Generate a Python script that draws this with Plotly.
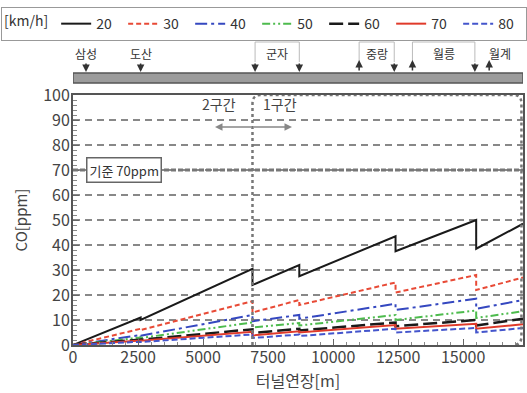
import plotly.graph_objects as go

# ---- data ----
DIST = [0, 2600, 2600, 6900, 6900, 8700, 8700, 12400, 12400, 15500, 15500, 17300]
SPEEDS = ["20", "30", "40", "50", "60", "70", "80"]
CO_20 = [0, 11.0, 10.0, 30.5, 24.0, 32.0, 27.5, 43.5, 37.5, 50.0, 38.5, 48.5]
CO_30 = [0, 6.5, 6.0, 17.5, 13.0, 18.0, 16.0, 25.0, 21.0, 28.0, 22.0, 27.0]
CO_40 = [0, 4.0, 3.7, 12.0, 9.5, 12.0, 10.5, 16.5, 14.0, 18.5, 14.5, 18.0]
CO_50 = [0, 3.0, 2.8, 9.0, 7.0, 8.8, 7.8, 12.0, 10.0, 13.8, 10.8, 13.5]
CO_60 = [0, 2.2, 2.1, 6.3, 4.8, 6.5, 5.8, 9.0, 7.5, 10.0, 7.8, 10.5]
CO_70 = [0, 1.8, 1.7, 5.3, 3.8, 5.5, 5.0, 8.0, 6.5, 8.5, 6.5, 8.3]
CO_80 = [0, 1.3, 1.2, 4.2, 2.8, 4.2, 3.6, 6.5, 5.0, 6.8, 5.0, 6.8]
SERIES = [CO_20, CO_30, CO_40, CO_50, CO_60, CO_70, CO_80]

X_TICKS = [0, 2500, 5000, 7500, 10000, 12500, 15000]
Y_TICKS = [0, 10, 20, 30, 40, 50, 60, 70, 80, 90, 100]
X_MAX = 17300
LIMIT = 70
SECTION_BOUND = 6900

STATIONS = ["삼성", "도산", "군자", "중랑", "월릉", "월계"]
STATION_X = [500, 2600, 7850, 11700, 14250, 16400]
DOWN_ARROWS = [500, 2600, 7000, 8700, 12350, 15450]
UP_ARROWS = [11000, 13050, 16000]
BOXES = [(7000, 8700), (11000, 12350), (13050, 15450)]

# ---- styles ----
COLORS = ["#1a1a1a", "#e84a36", "#3548c0", "#4dbb4d", "#1a1a1a", "#e03a2a", "#4455cc"]
DASHES = ["solid", "5px,3px", "12px,4px,3px,4px", "8px,3px,2px,3px,2px,3px",
          "14px,5px", "solid", "6px,3px"]
WIDTHS = [2, 2, 2, 2, 2.5, 2, 2]

FONT = "Noto Sans CJK KR, Noto Sans, sans-serif"

fig = go.Figure()
for name, ys, c, d, w in zip(SPEEDS, SERIES, COLORS, DASHES, WIDTHS):
    fig.add_trace(go.Scatter(x=DIST, y=ys, mode="lines", name=name,
                             line=dict(color=c, dash=d, width=w)))
# invisible trace to create the station strip subplot
fig.add_trace(go.Scatter(x=[0], y=[0], yaxis="y2", mode="markers", showlegend=False,
                         marker=dict(opacity=0), hoverinfo="skip"))

shapes = []
# limit line at 70 ppm
shapes.append(dict(type="line", xref="x", yref="y", x0=0, x1=X_MAX, y0=LIMIT, y1=LIMIT,
                   line=dict(color="#777", width=3, dash="5px,2px"), layer="above"))
# dotted rounded section box
rx, ry = 300, 3.5
xr = X_MAX - 60
path = (f"M {SECTION_BOUND},0 L {SECTION_BOUND},{100-ry} Q {SECTION_BOUND},100 {SECTION_BOUND+rx},100 "
        f"L {xr-rx},100 Q {xr},100 {xr},{100-ry} L {xr},{ry} Q {xr},0 {xr-rx},0")
shapes.append(dict(type="path", xref="x", yref="y", path=path,
                   line=dict(color="#777", width=2.5, dash="dot"), layer="above"))
# station bar (strip axis y2: value v = 85 - pixel)
shapes.append(dict(type="rect", xref="x", yref="y2", x0=0, x1=X_MAX, y0=2, y1=12,
                   fillcolor="#9c9c9c", line=dict(color="#555", width=1.5)))
# station boxes (brackets)
for a, b in BOXES:
    shapes.append(dict(type="path", xref="x", yref="y2",
                       path=f"M {a},23 L {a},43 L {b},43 L {b},23",
                       line=dict(color="#bbb", width=1)))

annotations = []
for name, sx in zip(STATIONS, STATION_X):
    annotations.append(dict(x=sx, y=32, xref="x", yref="y2", text=name, showarrow=False,
                            font=dict(family=FONT, size=12, color="#333")))
for ax_ in DOWN_ARROWS:
    annotations.append(dict(x=ax_, y=13, xref="x", yref="y2", ax=ax_, ay=23, axref="x", ayref="y2",
                            text="", showarrow=True, arrowhead=2, arrowsize=1, arrowwidth=1.5,
                            arrowcolor="#333"))
for ax_ in UP_ARROWS:
    annotations.append(dict(x=ax_, y=25, xref="x", yref="y2", ax=ax_, ay=13, axref="x", ayref="y2",
                            text="", showarrow=True, arrowhead=2, arrowsize=1, arrowwidth=1.5,
                            arrowcolor="#333"))
# section labels and arrows
annotations.append(dict(x=5620, y=96.4, xref="x", yref="y", text="2구간", showarrow=False,
                        font=dict(family=FONT, size=14, color="#444")))
annotations.append(dict(x=7950, y=96.4, xref="x", yref="y", text="1구간", showarrow=False,
                        font=dict(family=FONT, size=14, color="#444")))
for tip in (5460, 8420):
    annotations.append(dict(x=tip, y=87.2, xref="x", yref="y", ax=SECTION_BOUND, ay=87.2,
                            axref="x", ayref="y", text="", showarrow=True, arrowhead=2,
                            arrowsize=1, arrowwidth=1.5, arrowcolor="#888"))
# limit label
annotations.append(dict(x=1960, y=LIMIT, xref="x", yref="y", text="기준 70ppm", showarrow=False,
                        bgcolor="white", bordercolor="#666", borderwidth=1.5, borderpad=2,
                        font=dict(family=FONT, size=13, color="#333")))

fig.update_layout(
    width=527, height=393,
    margin=dict(l=73, r=4, t=40, b=48),
    paper_bgcolor="white", plot_bgcolor="white",
    font=dict(family=FONT, color="#333"),
    shapes=shapes, annotations=annotations,
    legend=dict(orientation="h", x=-0.14, y=1.108, xanchor="left", yanchor="top",
                bordercolor="#999", borderwidth=1, bgcolor="white",
                title=dict(text="[km/h]", side="left", font=dict(family=FONT, size=14, color="#333")),
                font=dict(family=FONT, size=14, color="#333"),
                entrywidth=22, entrywidthmode="pixels", tracegroupgap=0),
    xaxis=dict(range=[0, X_MAX], tickvals=X_TICKS, ticktext=[str(v) for v in X_TICKS],
               anchor="y", automargin=False,
               showgrid=False, zeroline=False, showline=True, linecolor="#555", linewidth=2,
               mirror=True, ticks="inside", ticklen=6, tickcolor="#666", ticklabelstandoff=-3,
               minor=dict(dtick=500, ticks="inside", ticklen=3, tickcolor="#888"),
               tickfont=dict(family=FONT, size=16, color="#444"),
               title=dict(text="터널연장[m]", font=dict(family=FONT, size=16, color="#444"), standoff=3)),
    yaxis=dict(domain=[0, 250 / 305], range=[0, 100], tickvals=Y_TICKS,
               ticktext=[str(v) for v in Y_TICKS], automargin=False,
               showgrid=True, gridcolor="#888", gridwidth=2, griddash="7px,5px",
               zeroline=False, showline=True, linecolor="#555", linewidth=2, mirror=True,
               ticks="inside", ticklen=6, tickcolor="#666", ticklabelstandoff=-2,
               minor=dict(dtick=2, ticks="inside", ticklen=4, tickcolor="#888"),
               tickfont=dict(family=FONT, size=16, color="#444"),
               title=dict(text="CO[ppm]", font=dict(family=FONT, size=15, color="#444"), standoff=12)),
    yaxis2=dict(domain=[260 / 305, 1], range=[0, 45], anchor="x", visible=False,
                showgrid=False, zeroline=False, fixedrange=True),
)

fig.write_html("out.html", config={"displayModeBar": False},
               post_script="document.body.style.margin='0';")
